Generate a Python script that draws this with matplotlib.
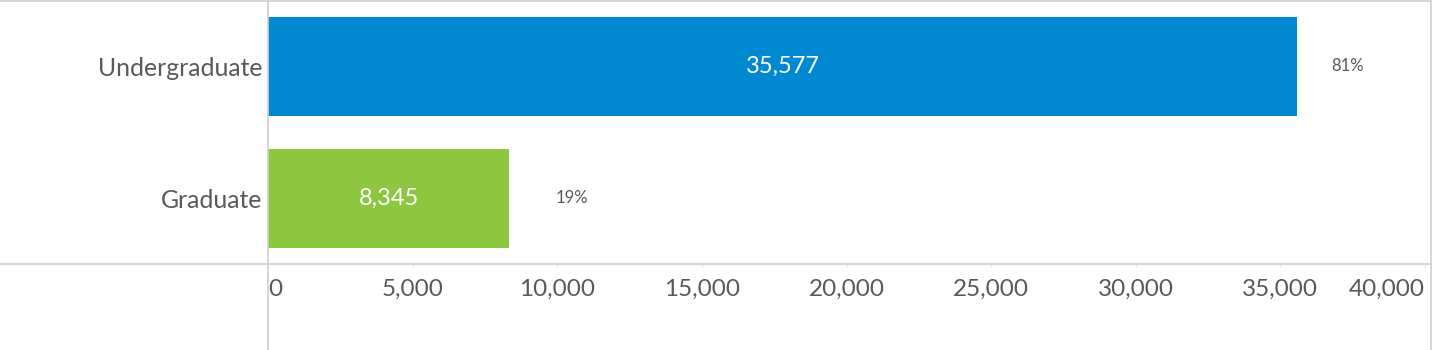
import matplotlib
matplotlib.use("Agg")
import matplotlib.pyplot as plt
from matplotlib.lines import Line2D

categories = ["Undergraduate", "Graduate"]
values = [35577, 8345]
shares = ["81%", "19%"]
bar_colors = ["#0088D1", "#8DC63F"]
xticks = [0, 5000, 10000, 15000, 20000, 25000, 30000, 35000, 40000]
xtick_labels = ["0", "5,000", "10,000", "15,000", "20,000", "25,000", "30,000", "35,000", "40,000"]

plt.rcParams['font.family'] = ['Lato', 'DejaVu Sans']
TEXT = "#595959"
LINE = "#D0D0D0"

W, H = 1432, 350
fig = plt.figure(figsize=(W / 100, H / 100), dpi=100)
x0, x1 = 268, 1431
ytop, ybot = 0, 264
ax = fig.add_axes([x0 / W, (H - ybot) / H, (x1 - x0) / W, (ybot - ytop) / H])
xmax = 40000 * (x1 - x0) / (1425 - x0)
ax.set_xlim(0, xmax)
ax.set_ylim(1.5, -0.5)

ypos = list(range(len(categories)))
ax.barh(ypos, values, height=0.75, color=bar_colors)

for y, v in zip(ypos, values):
    ax.text(v / 2, y, f"{v:,}", color="white", fontsize=17, ha="center", va="center")

share_offsets = [50, 63]
for y, v, s, off in zip(ypos, values, shares, share_offsets):
    ax.annotate(s, (v, y), xytext=(off, 0), textcoords="offset pixels",
                ha="center", va="center", fontsize=12, color=TEXT)

ax.set_yticks(ypos)
ax.set_yticklabels(categories, fontsize=17.8, color=TEXT)
ax.tick_params(axis="y", length=0, pad=4)

ax.set_xticks(xticks)
ax.set_xticklabels(xtick_labels, fontsize=17.5, color=TEXT)
ax.tick_params(axis="x", length=0, pad=11)
labs = ax.get_xticklabels()
labs[0].set_ha("left")
labs[-1].set_ha("right")

for sp in ax.spines.values():
    sp.set_visible(False)

# faint tick marks just below the axis line
for t in xticks[1:]:
    ax.plot([t, t], [0, -0.012], transform=ax.get_xaxis_transform(),
            color="#EBEBEB", lw=1, clip_on=False)

def fline(xa, ya, xb, yb):
    fig.add_artist(Line2D([xa / W, xb / W], [1 - ya / H, 1 - yb / H],
                          color=LINE, lw=1.2, transform=fig.transFigure))

fline(0, 0.6, W, 0.6)
fline(x1 - 0.5, 0, x1 - 0.5, H)
fline(0, ybot, W, ybot)
fline(x0, 0, x0, H)

fig.savefig("out.png", dpi=100)
